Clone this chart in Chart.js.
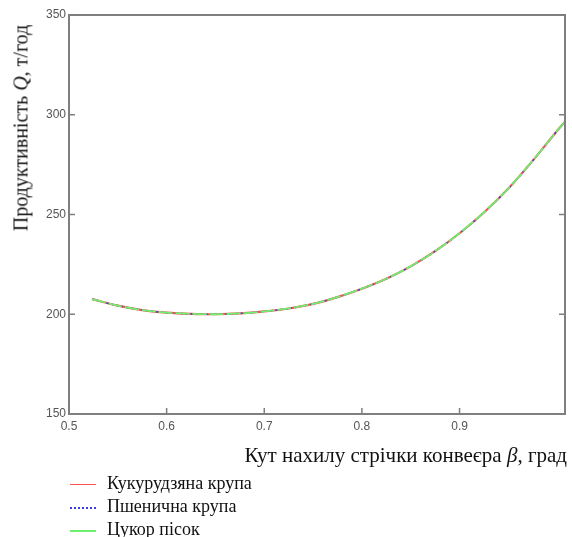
<!DOCTYPE html>
<html>
<head>
<meta charset="utf-8">
<script src="https://cdn.jsdelivr.net/npm/chart.js@4.4.1/dist/chart.umd.min.js"></script>
<style>
  body { margin: 0; background: #fff; }
  #wrap { position: relative; width: 572px; height: 537px; overflow: hidden; }
  canvas { position: absolute; left: 0; top: 0; }
  .serif { font-family: "Liberation Serif", "DejaVu Serif", serif; color: #111; white-space: nowrap; position: absolute; }
  #ytitle { left: 21px; top: 128px; font-size: 20px; transform: translate(-50%, -50%) rotate(-90deg); }
  #xtitle { right: 5px; top: 443px; font-size: 21px; }
  .row { left: 70px; font-size: 18px; height: 20px; line-height: 20px; }
  .row span { display: inline-block; width: 26px; margin-right: 11px; vertical-align: middle; }
</style>
</head>
<body>
<div id="wrap">
  <canvas id="chart" width="572" height="537"></canvas>
  <div id="ytitle" class="serif">Продуктивність <i>Q</i>, т/год</div>
  <div id="xtitle" class="serif">Кут нахилу стрічки конвеєра <i>β</i>, град</div>
  <div class="serif row" style="top:473px"><span style="border-top:1.5px solid rgb(255,80,80)"></span>Кукурудзяна крупа</div>
  <div class="serif row" style="top:496px"><span style="border-top:2px dotted rgb(60,60,230)"></span>Пшенична крупа</div>
  <div class="serif row" style="top:519px"><span style="border-top:2px solid rgb(110,240,110)"></span>Цукор пісок</div>
</div>
<script>
// кут нахилу, рад
const beta = [0.5236, 0.55, 0.575, 0.6, 0.625, 0.65, 0.675, 0.7, 0.725, 0.75, 0.775, 0.8,
              0.825, 0.85, 0.875, 0.9, 0.925, 0.95, 0.975, 1.0, 1.008];
// продуктивність, т/год
const qKukurudza = [207.6, 204.3, 202.1, 200.8, 200.2, 200.0, 200.4, 201.4, 202.9, 205.2, 208.6, 212.8,
                    217.8, 224.0, 231.6, 240.6, 251.0, 263.0, 277.0, 292.0, 296.5];
const qPshenytsia = [207.6, 204.3, 202.1, 200.8, 200.2, 200.0, 200.4, 201.4, 202.9, 205.2, 208.6, 212.8,
                     217.8, 224.0, 231.6, 240.6, 251.0, 263.0, 277.0, 292.0, 296.5];
const qTsukor = [207.6, 204.3, 202.1, 200.8, 200.2, 200.0, 200.4, 201.4, 202.9, 205.2, 208.6, 212.8,
                 217.8, 224.0, 231.6, 240.6, 251.0, 263.0, 277.0, 292.0, 296.5];

const xTicks = [0.5, 0.6, 0.7, 0.8, 0.9];
const yTicks = [150, 200, 250, 300, 350];

const pts = arr => arr.map((q, i) => ({ x: beta[i], y: q }));

// рамка та внутрішні штрихи як у Mathcad
const framePlugin = {
  id: 'frame',
  afterDraw(chart) {
    const { ctx, chartArea: a, scales } = chart;
    ctx.save();
    ctx.strokeStyle = '#7f7f7f';
    ctx.lineWidth = 2;
    ctx.strokeRect(a.left, a.top, a.right - a.left, a.bottom - a.top);
    ctx.lineWidth = 1.5;
    ctx.beginPath();
    yTicks.forEach(v => {
      const y = scales.y.getPixelForValue(v);
      ctx.moveTo(a.left, y); ctx.lineTo(a.left + 6, y);
      ctx.moveTo(a.right, y); ctx.lineTo(a.right - 6, y);
    });
    xTicks.forEach(v => {
      const x = scales.x.getPixelForValue(v);
      ctx.moveTo(x, a.bottom); ctx.lineTo(x, a.bottom - 6);
    });
    ctx.stroke();
    ctx.restore();
  }
};

const tickFont = { family: '"Liberation Sans", Arial, sans-serif', size: 12 };

new Chart(document.getElementById('chart'), {
  type: 'line',
  data: {
    datasets: [
      { label: 'Кукурудзяна крупа', data: pts(qKukurudza), borderColor: 'rgb(255,80,80)', borderWidth: 2.2, order: 3 },
      { label: 'Пшенична крупа', data: pts(qPshenytsia), borderColor: 'rgb(60,60,230)', borderWidth: 1.5, borderDash: [2, 3], order: 2 },
      { label: 'Цукор пісок', data: pts(qTsukor), borderColor: 'rgb(110,240,110)', borderWidth: 1.8, borderDash: [14, 3], order: 1 }
    ]
  },
  options: {
    responsive: false,
    animation: false,
    devicePixelRatio: 1,
    layout: { padding: { left: 0, top: 15, right: 7, bottom: 97 } },
    elements: { point: { radius: 0 }, line: { tension: 0.3 } },
    plugins: { legend: { display: false }, tooltip: { enabled: false } },
    scales: {
      x: {
        type: 'linear', min: 0.5, max: 1.008,
        grid: { display: false, drawTicks: false }, border: { display: false },
        afterBuildTicks: s => { s.ticks = xTicks.map(v => ({ value: v })); },
        afterFit: s => { s.height = 26; },
        ticks: { font: tickFont, color: '#555', padding: 5, maxRotation: 0, callback: v => v.toFixed(1) }
      },
      y: {
        min: 150, max: 350,
        grid: { display: false, drawTicks: false }, border: { display: false },
        afterBuildTicks: s => { s.ticks = yTicks.map(v => ({ value: v })); },
        afterFit: s => { s.width = 69; },
        ticks: { font: tickFont, color: '#555', padding: 3 }
      }
    }
  },
  plugins: [framePlugin]
});
</script>
</body>
</html>
